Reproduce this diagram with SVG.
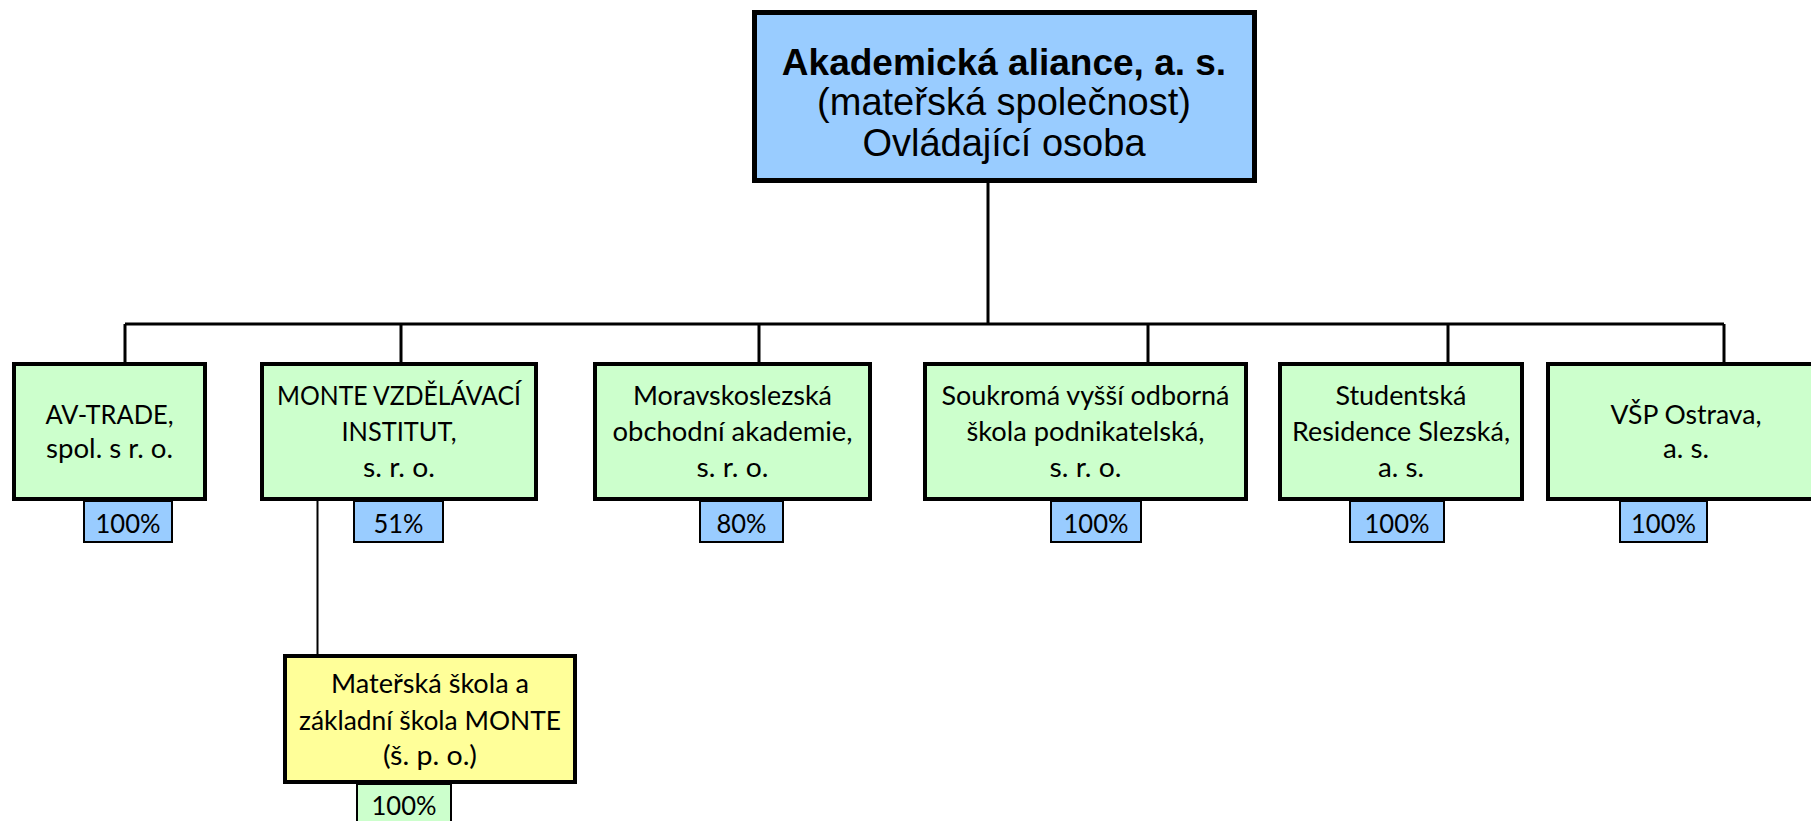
<svg xmlns="http://www.w3.org/2000/svg" width="1811" height="821" viewBox="0 0 1811 821">
<style>
.bg{fill:#ffffff}
.top{fill:#99CCFF;stroke:#000;stroke-width:5}
.sub{fill:#CCFFCC;stroke:#000;stroke-width:4}
.yel{fill:#FFFF99;stroke:#000;stroke-width:4}
.pct{fill:#99CCFF;stroke:#000;stroke-width:2}
.pctg{fill:#CCFFCC;stroke:#000;stroke-width:2}
.con{fill:none;stroke:#000;stroke-width:3}
.con2{fill:none;stroke:#000;stroke-width:2}
.ta{font-family:"Liberation Sans",Arial,sans-serif;font-size:38px;fill:#000;text-anchor:middle}
.tb{font-family:"Liberation Sans",Arial,sans-serif;font-size:37px;font-weight:bold;fill:#000;text-anchor:middle}
.tc{font-family:Lato,"Noto Sans",sans-serif;font-size:26.5px;fill:#000;text-anchor:middle}
</style>
<rect class="bg" x="0" y="0" width="1811" height="821"/>
<g id="connectors">
<path class="con" d="M988 183 V324 M125 324 H1724 M125 324 V362 M401 324 V362 M759 324 V362 M1148 324 V362 M1448 324 V362 M1724 324 V362"/>
<path class="con2" d="M317.5 501 V655"/>
</g>
<g id="node-parent">
<rect class="top" x="754.5" y="12.5" width="500" height="168"/>
<text class="tb" x="1004" y="75">Akademická aliance, a. s.</text>
<text class="ta" x="1004" y="115">(mateřská společnost)</text>
<text class="ta" x="1004" y="156">Ovládající osoba</text>
</g>
<g id="node-avtrade">
<rect class="sub" x="14" y="364" width="191" height="135"/>
<text class="tc" x="109.5" y="424" textLength="128" lengthAdjust="spacingAndGlyphs">AV-TRADE,</text>
<text class="tc" x="109.5" y="458" textLength="127" lengthAdjust="spacingAndGlyphs">spol. s r. o.</text>
<rect class="pct" x="84" y="501" width="88" height="41"/>
<text class="tc" x="128" y="533" textLength="65" lengthAdjust="spacingAndGlyphs">100%</text>
</g>
<g id="node-monte">
<rect class="sub" x="262" y="364" width="274" height="135"/>
<text class="tc" x="399" y="405" textLength="244" lengthAdjust="spacingAndGlyphs">MONTE VZDĚLÁVACÍ</text>
<text class="tc" x="399" y="441" textLength="115" lengthAdjust="spacingAndGlyphs">INSTITUT,</text>
<text class="tc" x="399" y="477" textLength="72" lengthAdjust="spacingAndGlyphs">s. r. o.</text>
<rect class="pct" x="354" y="501" width="89" height="41"/>
<text class="tc" x="398.5" y="533" textLength="50" lengthAdjust="spacingAndGlyphs">51%</text>
</g>
<g id="node-msoa">
<rect class="sub" x="595" y="364" width="275" height="135"/>
<text class="tc" x="732.5" y="405" textLength="199" lengthAdjust="spacingAndGlyphs">Moravskoslezská</text>
<text class="tc" x="732.5" y="441" textLength="240" lengthAdjust="spacingAndGlyphs">obchodní akademie,</text>
<text class="tc" x="732.5" y="477" textLength="72" lengthAdjust="spacingAndGlyphs">s. r. o.</text>
<rect class="pct" x="700" y="501" width="83" height="41"/>
<text class="tc" x="741.5" y="533" textLength="50" lengthAdjust="spacingAndGlyphs">80%</text>
</g>
<g id="node-svosp">
<rect class="sub" x="925" y="364" width="321" height="135"/>
<text class="tc" x="1085.5" y="405" textLength="288" lengthAdjust="spacingAndGlyphs">Soukromá vyšší odborná</text>
<text class="tc" x="1085.5" y="441" textLength="238" lengthAdjust="spacingAndGlyphs">škola podnikatelská,</text>
<text class="tc" x="1085.5" y="477" textLength="72" lengthAdjust="spacingAndGlyphs">s. r. o.</text>
<rect class="pct" x="1051" y="501" width="90" height="41"/>
<text class="tc" x="1096" y="533" textLength="65" lengthAdjust="spacingAndGlyphs">100%</text>
</g>
<g id="node-srs">
<rect class="sub" x="1280" y="364" width="242" height="135"/>
<text class="tc" x="1401" y="405" textLength="131" lengthAdjust="spacingAndGlyphs">Studentská</text>
<text class="tc" x="1401" y="441" textLength="218" lengthAdjust="spacingAndGlyphs">Residence Slezská,</text>
<text class="tc" x="1401" y="477" textLength="46" lengthAdjust="spacingAndGlyphs">a. s.</text>
<rect class="pct" x="1350" y="501" width="94" height="41"/>
<text class="tc" x="1397" y="533" textLength="65" lengthAdjust="spacingAndGlyphs">100%</text>
</g>
<g id="node-vsp">
<rect class="sub" x="1548" y="364" width="280" height="135"/>
<text class="tc" x="1686" y="424" textLength="151" lengthAdjust="spacingAndGlyphs">VŠP Ostrava,</text>
<text class="tc" x="1686" y="458" textLength="46" lengthAdjust="spacingAndGlyphs">a. s.</text>
<rect class="pct" x="1620" y="501" width="87" height="41"/>
<text class="tc" x="1663.5" y="533" textLength="65" lengthAdjust="spacingAndGlyphs">100%</text>
</g>
<g id="node-ms-zs">
<rect class="yel" x="285" y="656" width="290" height="126"/>
<text class="tc" x="430" y="693" textLength="198" lengthAdjust="spacingAndGlyphs">Mateřská škola a</text>
<text class="tc" x="430" y="730" textLength="262" lengthAdjust="spacingAndGlyphs">základní škola MONTE</text>
<text class="tc" x="430" y="765" textLength="94" lengthAdjust="spacingAndGlyphs">(š. p. o.)</text>
<rect class="pctg" x="357" y="784" width="94" height="50"/>
<text class="tc" x="404" y="815" textLength="65" lengthAdjust="spacingAndGlyphs">100%</text>
</g>
</svg>
